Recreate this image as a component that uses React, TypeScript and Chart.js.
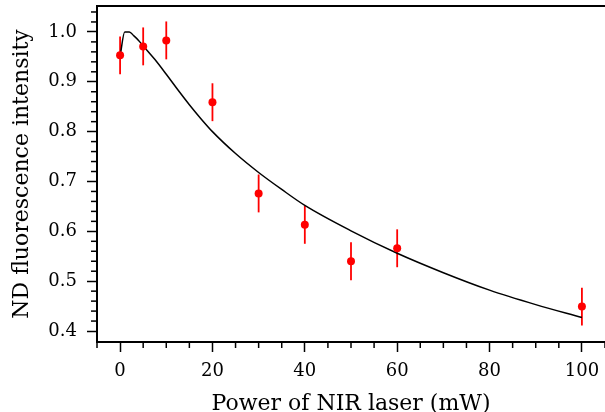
import React, { useEffect, useRef } from 'react';
import { Chart, registerables } from 'chart.js';

Chart.register(...registerables);

// Measured data (power in mW, normalized ND fluorescence intensity)
const powers = [0, 5, 10, 20, 30, 40, 50, 60, 100];
const intensity = [0.953, 0.971, 0.983, 0.859, 0.676, 0.613, 0.540, 0.566, 0.449];
const errors = [0.038, 0.038, 0.038, 0.038, 0.038, 0.038, 0.038, 0.038, 0.038];

// Fitted curve
const fitX = [0, 1, 2, 3, 4, 5, 7.5, 10, 12.5, 15, 17.5, 20, 25, 30, 35, 40, 50, 60, 70, 80, 90, 100];
const fitY = [0.951, 1.0, 1.0, 0.992, 0.983, 0.972, 0.945, 0.915, 0.884, 0.854, 0.826, 0.800, 0.756, 0.718, 0.684, 0.652, 0.601, 0.556, 0.517, 0.482, 0.453, 0.427];

const xTicks = [0, 20, 40, 60, 80, 100];
const yTicks = [0.4, 0.5, 0.6, 0.7, 0.8, 0.9, 1.0];
const xMinor = [-5, 5, 10, 15, 25, 30, 35, 45, 50, 55, 65, 70, 75, 85, 90, 95, 105];
const yMinor = [0.42, 0.44, 0.46, 0.48, 0.52, 0.54, 0.56, 0.58, 0.62, 0.64, 0.66, 0.68, 0.72, 0.74, 0.76, 0.78, 0.82, 0.84, 0.86, 0.88, 0.92, 0.94, 0.96, 0.98, 1.02, 1.04];

const FONT = 'DejaVu Serif';

const decorPlugin = {
  id: 'decor',
  beforeDatasetsDraw(chart: any) {
    const { ctx } = chart;
    const xs = chart.scales.x;
    const ys = chart.scales.y;
    ctx.save();
    ctx.strokeStyle = '#ff0000';
    ctx.lineWidth = 1.8;
    powers.forEach((p, i) => {
      const px = xs.getPixelForValue(p);
      const y1 = ys.getPixelForValue(intensity[i] - errors[i]);
      const y2 = ys.getPixelForValue(intensity[i] + errors[i]);
      ctx.beginPath();
      ctx.moveTo(px, y1);
      ctx.lineTo(px, y2);
      ctx.stroke();
    });
    ctx.restore();
  },
  afterDraw(chart: any) {
    const { ctx, chartArea } = chart;
    const xs = chart.scales.x;
    const ys = chart.scales.y;
    ctx.save();
    ctx.strokeStyle = '#000';
    ctx.lineWidth = 2;
    ctx.beginPath();
    ctx.moveTo(chartArea.left - 1, chartArea.top);
    ctx.lineTo(chartArea.right, chartArea.top);
    ctx.stroke();
    ctx.lineWidth = 1.5;
    xMinor.forEach((v) => {
      const px = xs.getPixelForValue(v);
      if (px < chartArea.left || px > chartArea.right + 0.5) return;
      ctx.beginPath();
      ctx.moveTo(px, chartArea.bottom);
      ctx.lineTo(px, chartArea.bottom + 6);
      ctx.stroke();
    });
    yMinor.forEach((v) => {
      const py = ys.getPixelForValue(v);
      if (py < chartArea.top || py > chartArea.bottom) return;
      ctx.beginPath();
      ctx.moveTo(chartArea.left, py);
      ctx.lineTo(chartArea.left - 6, py);
      ctx.stroke();
    });
    ctx.restore();
  },
};

export default function App() {
  const ref = useRef<HTMLCanvasElement>(null);
  useEffect(() => {
    const chart = new Chart(ref.current!, {
      type: 'scatter',
      data: {
        datasets: [
          {
            type: 'scatter',
            data: powers.map((x, i) => ({ x, y: intensity[i] })),
            backgroundColor: '#ff0000',
            borderColor: '#ff0000',
            pointRadius: 4,
            pointHoverRadius: 4,
            borderWidth: 0,
            clip: false,
            order: 1,
          } as any,
          {
            type: 'line',
            data: fitX.map((x, i) => ({ x, y: fitY[i] })),
            borderColor: '#000',
            borderWidth: 1.5,
            pointRadius: 0,
            fill: false,
            cubicInterpolationMode: 'monotone',
            order: 2,
          } as any,
        ],
      },
      options: {
        animation: false,
        responsive: false,
        maintainAspectRatio: false,
        layout: { autoPadding: false, padding: { top: 6, right: 0, left: 0, bottom: 0 } },
        plugins: { legend: { display: false }, tooltip: { enabled: false } },
        scales: {
          x: {
            type: 'linear',
            min: -5,
            max: 105,
            afterBuildTicks: (s: any) => {
              s.ticks = xTicks.map((v) => ({ value: v }));
            },
            afterFit: (s: any) => {
              s.height = 70;
              s.paddingLeft = 0;
              s.paddingRight = 0;
            },
            ticks: {
              font: { family: FONT, size: 18 },
              color: '#000',
              padding: 9,
              maxRotation: 0,
              callback: (v: any) => String(v),
            },
            grid: { drawOnChartArea: false, tickLength: 10, tickWidth: 1.5, tickColor: '#000' },
            border: { color: '#000', width: 2 },
            title: {
              display: true,
              text: 'Power of NIR laser (mW)',
              font: { family: FONT, size: 22 },
              color: '#000',
              padding: { top: 0, bottom: -5 },
            },
          },
          y: {
            type: 'linear',
            min: 0.378,
            max: 1.052,
            afterBuildTicks: (s: any) => {
              s.ticks = yTicks.map((v) => ({ value: v }));
            },
            afterFit: (s: any) => {
              s.width = 97;
              s.paddingTop = 0;
              s.paddingBottom = 0;
            },
            ticks: {
              font: { family: FONT, size: 18 },
              color: '#000',
              padding: 10,
              callback: (v: any) => Number(v).toFixed(1),
            },
            grid: { drawOnChartArea: false, tickLength: 10, tickWidth: 1.5, tickColor: '#000' },
            border: { color: '#000', width: 2 },
            title: {
              display: true,
              text: 'ND fluorescence intensity',
              font: { family: FONT, size: 22 },
              color: '#000',
              padding: { top: 9, bottom: 0 },
            },
          },
        },
      },
      plugins: [decorPlugin],
    });
    return () => chart.destroy();
  }, []);
  return (
    <div style={{ position: 'fixed', left: 0, top: 0, width: 605, height: 412, background: '#fff' }}>
      <canvas ref={ref} width={605} height={412} style={{ display: 'block' }} />
    </div>
  );
}
